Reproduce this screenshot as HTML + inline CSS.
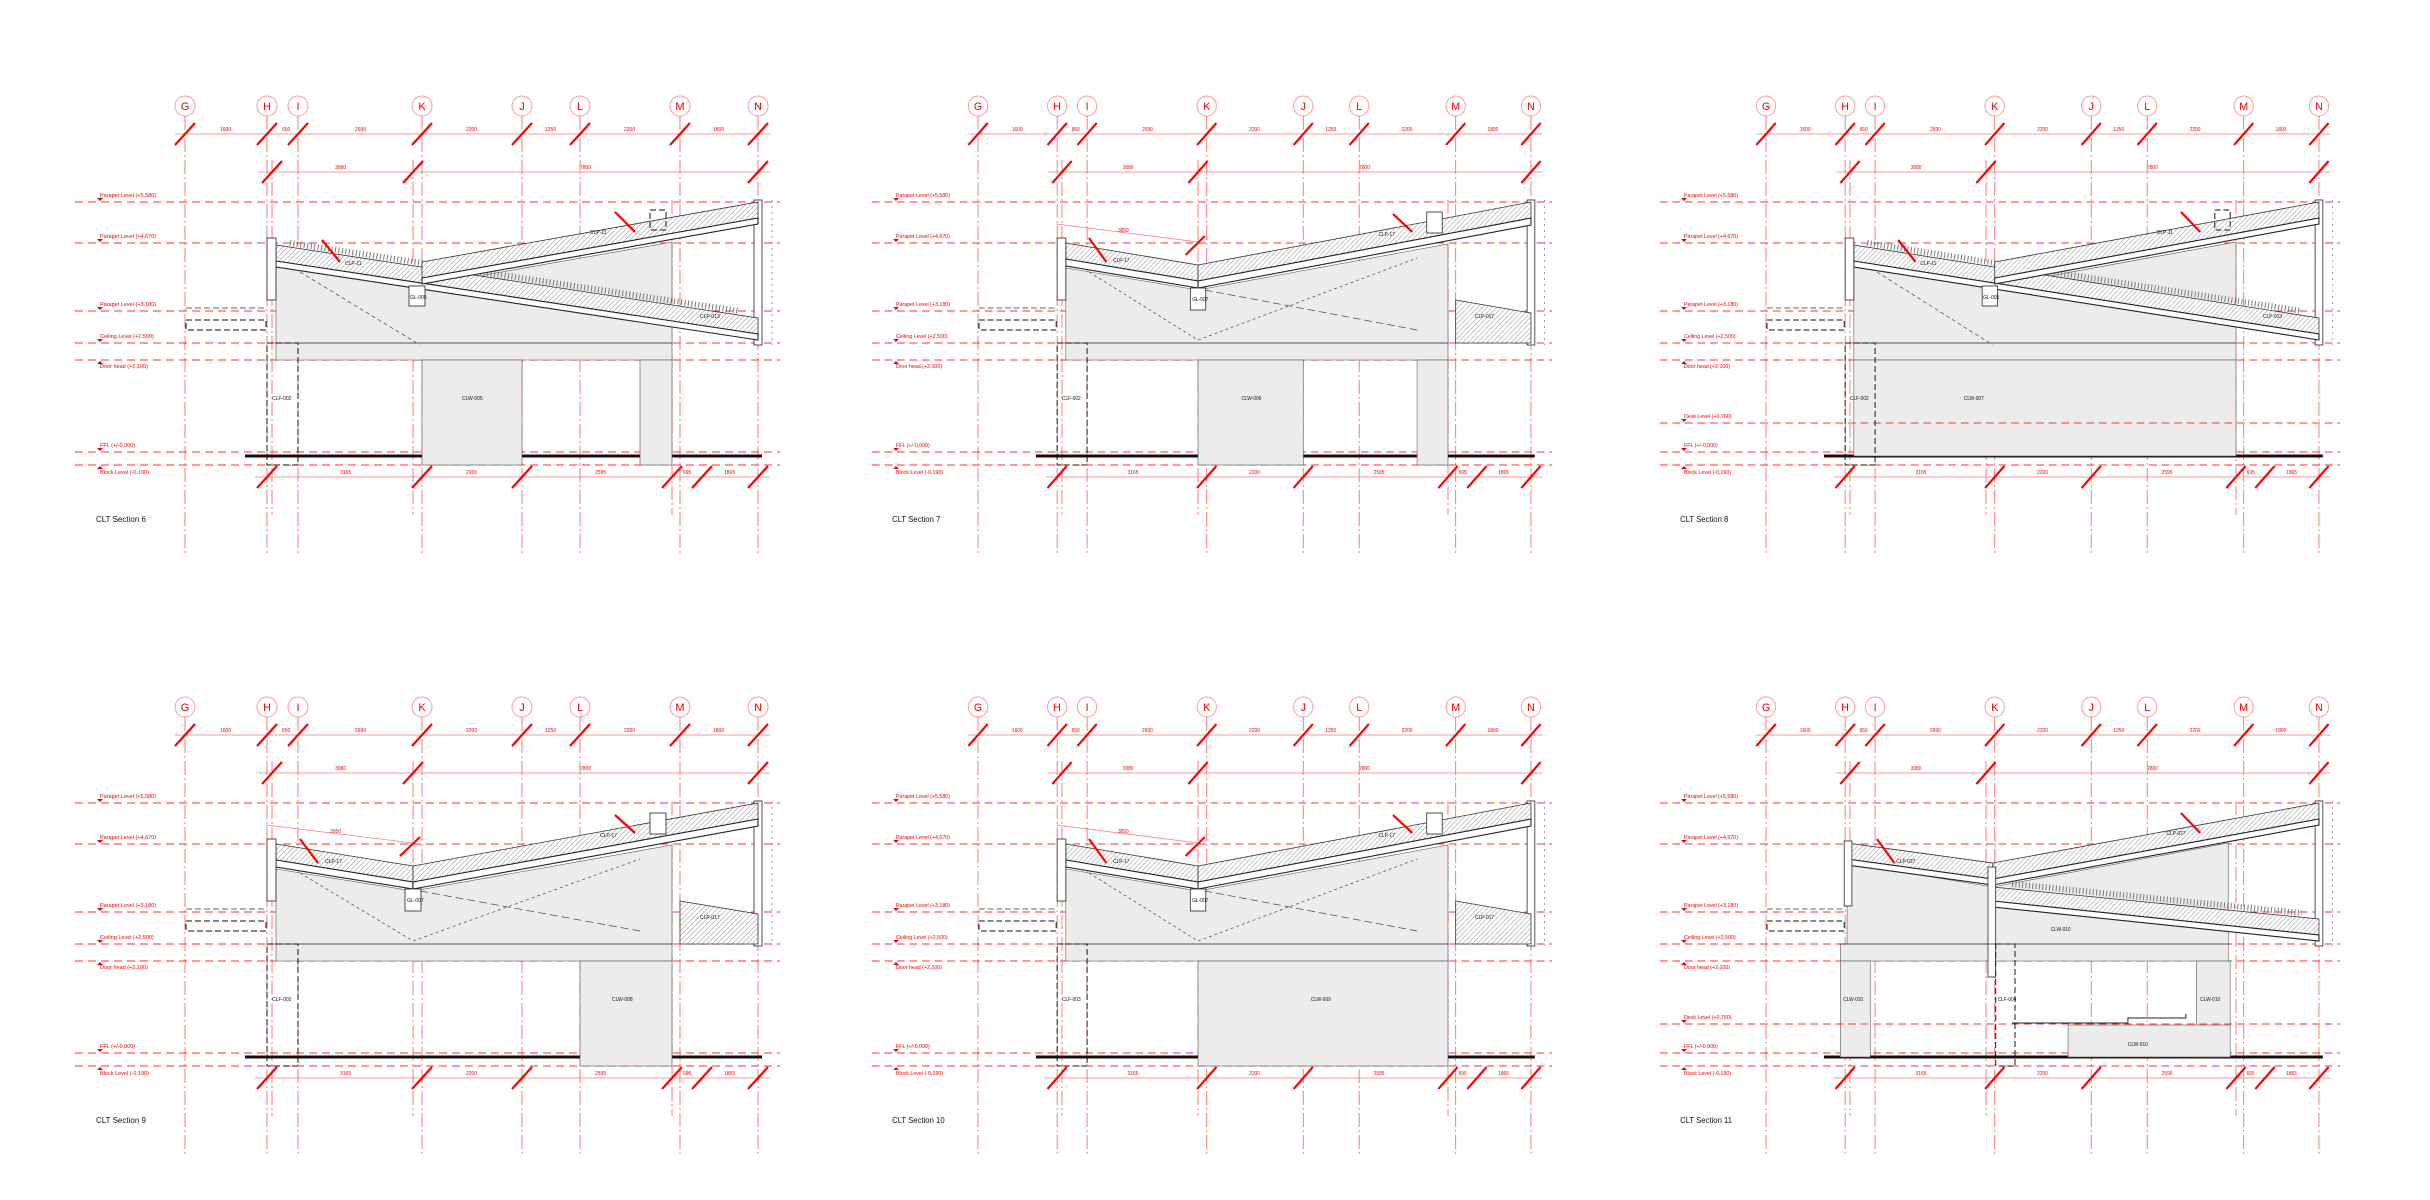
<!DOCTYPE html>
<html><head><meta charset="utf-8"><style>
html,body{margin:0;padding:0;background:#fff;}
svg{display:block;}
text{font-family:"Liberation Sans",sans-serif;}
.r{fill:#e00;font-size:5px;}
.lv{fill:#e00;font-size:5.5px;}
.k{fill:#111;font-size:5px;}
.gb{fill:#e00;font-size:11px;text-anchor:middle;}
.g{stroke:#f55;stroke-width:.8;stroke-dasharray:14 3 2 3;fill:none;}
.lvl{stroke:#f33;stroke-width:1;stroke-dasharray:8 5;}
.dim{stroke:#f77;stroke-width:.7;}
.sl{stroke:#f00;stroke-width:2.2;}
.hat{fill:url(#hatch);stroke:#333;stroke-width:.8;}
.st{fill:#fff;stroke:#222;stroke-width:1.1;}
.gray{fill:#ececec;stroke:#555;stroke-width:.6;}
.dash{fill:none;stroke:#111;stroke-width:1;stroke-dasharray:6 3;}
.veg{stroke:#777;stroke-width:6;stroke-dasharray:1 2.5;}
.lbl{fill:#111;font-size:8px;}
</style></head><body>
<svg width="2430" height="1200" viewBox="0 0 2430 1200" xmlns="http://www.w3.org/2000/svg">
<defs>
<pattern id="hatch" patternUnits="userSpaceOnUse" width="5" height="5">
<rect width="5" height="5" fill="#fff"/><path d="M0,5 L5,0" stroke="#999" stroke-width=".6"/>
</pattern>
<g id="base">
 <g fill="none" stroke="#f99" stroke-width="1">
  <circle cx="185" cy="106" r="10"/><circle cx="267" cy="106" r="10"/><circle cx="298" cy="106" r="10"/><circle cx="422" cy="106" r="10"/><circle cx="522" cy="106" r="10"/><circle cx="580" cy="106" r="10"/><circle cx="680" cy="106" r="10"/><circle cx="758" cy="106" r="10"/>
 </g>
 <text class="gb" x="185" y="110">G</text><text class="gb" x="267" y="110">H</text><text class="gb" x="298" y="110">I</text><text class="gb" x="422" y="110">K</text><text class="gb" x="522" y="110">J</text><text class="gb" x="580" y="110">L</text><text class="gb" x="680" y="110">M</text><text class="gb" x="758" y="110">N</text>
 <g class="g">
  <line x1="185" y1="116" x2="185" y2="553"/><line x1="267" y1="116" x2="267" y2="553"/><line x1="298" y1="116" x2="298" y2="553"/><line x1="422" y1="116" x2="422" y2="553"/><line x1="522" y1="116" x2="522" y2="553"/><line x1="580" y1="116" x2="580" y2="553"/><line x1="680" y1="116" x2="680" y2="553"/><line x1="758" y1="116" x2="758" y2="553"/>
  <line x1="272" y1="160" x2="272" y2="515"/><line x1="413" y1="160" x2="413" y2="515"/><line x1="672" y1="200" x2="672" y2="515"/>
 </g>
 <line class="dim" x1="175" y1="134" x2="770" y2="134"/>
 <line class="dim" x1="258" y1="172" x2="770" y2="172"/>
 <line class="dim" x1="255" y1="477" x2="770" y2="477"/>
 <g class="sl">
  <line x1="175" y1="145" x2="195" y2="123"/><line x1="257" y1="145" x2="277" y2="123"/><line x1="288" y1="145" x2="308" y2="123"/><line x1="412" y1="145" x2="432" y2="123"/><line x1="512" y1="145" x2="532" y2="123"/><line x1="570" y1="145" x2="590" y2="123"/><line x1="670" y1="145" x2="690" y2="123"/><line x1="748" y1="145" x2="768" y2="123"/>
  <line x1="262" y1="183" x2="282" y2="161"/><line x1="403" y1="183" x2="423" y2="161"/><line x1="748" y1="183" x2="768" y2="161"/>
  <line x1="257" y1="488" x2="277" y2="466"/><line x1="412" y1="488" x2="432" y2="466"/><line x1="512" y1="488" x2="532" y2="466"/><line x1="662" y1="488" x2="682" y2="466"/><line x1="692" y1="488" x2="712" y2="466"/><line x1="748" y1="488" x2="768" y2="466"/>
 </g>
 <text class="r" x="220" y="131">1600</text><text class="r" x="282" y="131">650</text><text class="r" x="355" y="131">2690</text><text class="r" x="466" y="131">2200</text><text class="r" x="545" y="131">1250</text><text class="r" x="624" y="131">2200</text><text class="r" x="713" y="131">1800</text>
 <text class="r" x="335" y="169">3080</text><text class="r" x="580" y="169">7800</text>
 <text class="r" x="340" y="474">3165</text><text class="r" x="466" y="474">2200</text><text class="r" x="595" y="474">2595</text><text class="r" x="683" y="474">695</text><text class="r" x="724" y="474">1865</text>
 <g class="lvl">
  <line x1="75" y1="202" x2="780" y2="202"/><line x1="75" y1="243" x2="780" y2="243"/><line x1="75" y1="311" x2="780" y2="311"/><line x1="75" y1="343" x2="780" y2="343"/><line x1="75" y1="360" x2="780" y2="360"/><line x1="75" y1="452" x2="780" y2="452"/><line x1="75" y1="465" x2="780" y2="465"/>
 </g>
 <text class="lv" x="100" y="197">Parapet Level (+5,580)</text>
 <text class="lv" x="100" y="238">Parapet Level (+4,670)</text>
 <text class="lv" x="100" y="306">Parapet Level (+3,180)</text>
 <text class="lv" x="100" y="338">Ceiling Level (+2,500)</text>
 <text class="lv" x="100" y="368">Door head (+2,100)</text>
 <text class="lv" x="100" y="447">FFL (+/-0,000)</text>
 <text class="lv" x="100" y="474">Block Level (-0,190)</text>
 <g fill="#e00">
  <path d="M97,198 L103,198 L100,201Z"/><path d="M97,239 L103,239 L100,242Z"/><path d="M97,307 L103,307 L100,310Z"/><path d="M97,339 L103,339 L100,342Z"/><path d="M97,364 L103,364 L100,361Z"/><path d="M97,448 L103,448 L100,451Z"/><path d="M97,469 L103,469 L100,466Z"/>
 </g>
 <rect class="dash" x="186" y="320" width="80" height="10" stroke-width=".7"/>
 <line x1="186" y1="308" x2="267" y2="308" stroke="#333" stroke-width=".7" stroke-dasharray="6 3"/>
 <line x1="245" y1="456" x2="762" y2="456" stroke="#111" stroke-width="3"/>
 <rect x="754" y="200" width="8" height="145" fill="#fff" stroke="#222" stroke-width=".8"/>
 <line x1="772" y1="200" x2="772" y2="345" stroke="#555" stroke-width=".6" stroke-dasharray="2 4"/>
</g>
<g id="roofA">
 <polygon class="gray" points="276,262 422,286 672,242 672,360 276,360"/>
 <polygon class="hat" points="276,245 758,318 758,334 276,261"/>
 <polygon class="st" points="276,261 758,334 758,340 276,267"/>
 <line class="veg" x1="290" y1="243" x2="740" y2="311"/>
 <polygon class="hat" points="422,262 758,202 758,218 422,278"/>
 <polygon class="st" points="422,278 758,218 758,224 422,284"/>
 <rect x="267" y="238" width="9" height="62" fill="#fff" stroke="#222" stroke-width=".8"/>
 <rect x="409" y="286" width="16" height="20" fill="#fff" stroke="#222" stroke-width=".8"/>
 <line x1="276" y1="343" x2="672" y2="343" stroke="#222" stroke-width=".8"/>
 <polyline points="300,272 420,345" fill="none" stroke="#444" stroke-width=".7" stroke-dasharray="4 3"/>
 <rect class="dash" x="650" y="210" width="16" height="20" stroke-width=".8"/>
 <line class="sl" x1="615" y1="212" x2="635" y2="232"/><line class="sl" x1="322" y1="240" x2="340" y2="262"/>
 <text class="k" x="345" y="265">CLP-11</text><text class="k" x="590" y="234">CLP-11</text><text class="k" x="410" y="299">GL-005</text><text class="k" x="700" y="318">CLP-013</text>
</g>
<g id="roofB">
 <polygon class="gray" points="276,268 413,290 672,244 672,360 276,360"/>
 <polygon class="hat" points="276,243 413,265 413,281 276,259"/>
 <polygon class="st" points="276,259 413,281 413,288 276,266"/>
 <polygon class="hat" points="413,265 758,202 758,218 413,281"/>
 <polygon class="st" points="413,281 758,218 758,225 413,288"/>
 <polygon class="hat" points="680,300 758,313 758,343 680,343"/>
 <rect x="267" y="238" width="9" height="62" fill="#fff" stroke="#222" stroke-width=".8"/>
 <rect x="405" y="288" width="16" height="22" fill="#fff" stroke="#222" stroke-width=".8"/>
 <rect x="650" y="212" width="16" height="21" fill="#fff" stroke="#222" stroke-width=".8"/>
 <line x1="276" y1="343" x2="672" y2="343" stroke="#222" stroke-width=".8"/>
 <polyline points="300,272 413,340 640,258" fill="none" stroke="#444" stroke-width=".7" stroke-dasharray="3 3"/>
 <line x1="420" y1="290" x2="640" y2="330" stroke="#444" stroke-width=".7" stroke-dasharray="8 4"/>
 <line x1="266" y1="224" x2="413" y2="242" stroke="#f77" stroke-width=".7"/>
 <line class="sl" x1="300" y1="238" x2="318" y2="262"/><line class="sl" x1="615" y1="214" x2="635" y2="232"/>
 <line class="sl" x1="400" y1="255" x2="420" y2="236"/>
 <text class="r" x="330" y="232">3050</text>
 <text class="k" x="325" y="262">CLP-17</text><text class="k" x="600" y="236">CLP-17</text><text class="k" x="407" y="301">GL-007</text><text class="k" x="700" y="318">CLP-017</text>
</g>
</defs>

<!-- Section 6 -->
<g transform="translate(0,0)">
 <use href="#base"/><use href="#roofA"/>
 <rect class="gray" x="422" y="360" width="100" height="105"/>
 <rect class="gray" x="640" y="360" width="32" height="105"/>
 <rect class="dash" x="267" y="343" width="31" height="122"/>
 <text class="k" x="272" y="400">CLF-002</text><text class="k" x="462" y="400">CLW-005</text>
 <text class="lbl" x="96" y="522">CLT Section 6</text>
</g>
<!-- Section 7 -->
<g transform="translate(799.5,0) scale(0.965,1)">
 <use href="#base"/><use href="#roofB"/>
 <rect class="gray" x="413" y="360" width="109" height="105"/>
 <rect class="gray" x="640" y="360" width="32" height="105"/>
 <rect class="dash" x="267" y="343" width="31" height="122"/>
 <text class="k" x="272" y="400">CLF-002</text><text class="k" x="458" y="400">CLW-006</text>
 <text class="lbl" x="96" y="522">CLT Section 7</text>
</g>
<!-- Section 8 -->
<g transform="translate(1587.5,0) scale(0.965,1)">
 <use href="#base"/><use href="#roofA"/>
 <rect class="gray" x="276" y="360" width="396" height="96"/>
 <line class="lvl" x1="75" y1="423" x2="780" y2="423"/>
 <text class="lv" x="100" y="418">Desk Level (+0,760)</text>
 <path d="M97,419 L103,419 L100,422Z" fill="#e00"/>
 <rect class="dash" x="267" y="343" width="31" height="122"/>
 <text class="k" x="272" y="400">CLF-002</text><text class="k" x="390" y="400">CLW-007</text>
 <text class="lbl" x="96" y="522">CLT Section 8</text>
</g>
<!-- Section 9 -->
<g transform="translate(0,601)">
 <use href="#base"/><use href="#roofB"/>
 <rect class="gray" x="580" y="360" width="92" height="105"/>
 <rect class="dash" x="267" y="343" width="31" height="122"/>
 <text class="k" x="272" y="400">CLF-002</text><text class="k" x="612" y="400">CLW-008</text>
 <text class="lbl" x="96" y="522">CLT Section 9</text>
</g>
<!-- Section 10 -->
<g transform="translate(799.5,601) scale(0.965,1)">
 <use href="#base"/><use href="#roofB"/>
 <rect class="gray" x="413" y="360" width="259" height="105"/>
 <rect class="dash" x="267" y="343" width="31" height="122"/>
 <text class="k" x="272" y="400">CLF-003</text><text class="k" x="530" y="400">CLW-009</text>
 <text class="lbl" x="96" y="522">CLT Section 10</text>
</g>
<!-- Section 11 -->
<g transform="translate(1587.5,601) scale(0.965,1)">
 <use href="#base"/>
 <polygon class="gray" points="269,262 420,286 664,242 664,360 262,360 262,343 269,343"/>
 <rect class="gray" x="262" y="360" width="31" height="96"/>
 <rect class="gray" x="631" y="360" width="35" height="96"/>
 <rect class="gray" x="498" y="424" width="168" height="32"/>
 <polygon class="hat" points="269,242 420,262 420,278 269,258"/>
 <polygon class="st" points="269,258 420,278 420,284 269,264"/>
 <polygon class="hat" points="420,286 758,318 758,334 420,300"/>
 <polygon class="st" points="420,300 758,334 758,340 420,306"/>
 <line class="veg" x1="440" y1="283" x2="740" y2="312"/>
 <polygon class="hat" points="420,262 758,202 758,218 420,278"/>
 <polygon class="st" points="420,278 758,218 758,224 420,284"/>
 <rect x="266" y="240" width="8" height="65" fill="#fff" stroke="#222" stroke-width=".8"/>
 <rect x="415" y="266" width="8" height="110" fill="#fff" stroke="#222" stroke-width=".8"/>
 <line class="lvl" x1="75" y1="423" x2="780" y2="423"/>
 <text class="lv" x="100" y="418">Desk Level (+0,760)</text>
 <path d="M97,419 L103,419 L100,422Z" fill="#e00"/>
 <polyline points="440,422 560,422 560,417 620,417 620,413" fill="none" stroke="#222" stroke-width="1"/>
 <rect class="dash" x="423" y="343" width="20" height="122"/>
 <line x1="262" y1="343" x2="664" y2="343" stroke="#222" stroke-width=".8"/>
 <line class="sl" x1="300" y1="238" x2="318" y2="262"/><line class="sl" x1="615" y1="212" x2="635" y2="232"/>
 <text class="k" x="320" y="262">CLP-027</text><text class="k" x="600" y="234">CLP-027</text><text class="k" x="480" y="330">CLW-010</text>
 <text class="k" x="265" y="400">CLW-010</text><text class="k" x="425" y="400">CLF-004</text><text class="k" x="635" y="400">CLW-010</text><text class="k" x="560" y="445">CLW-010</text>
 <text class="lbl" x="96" y="522">CLT Section 11</text>
</g>
</svg>
</body></html>
